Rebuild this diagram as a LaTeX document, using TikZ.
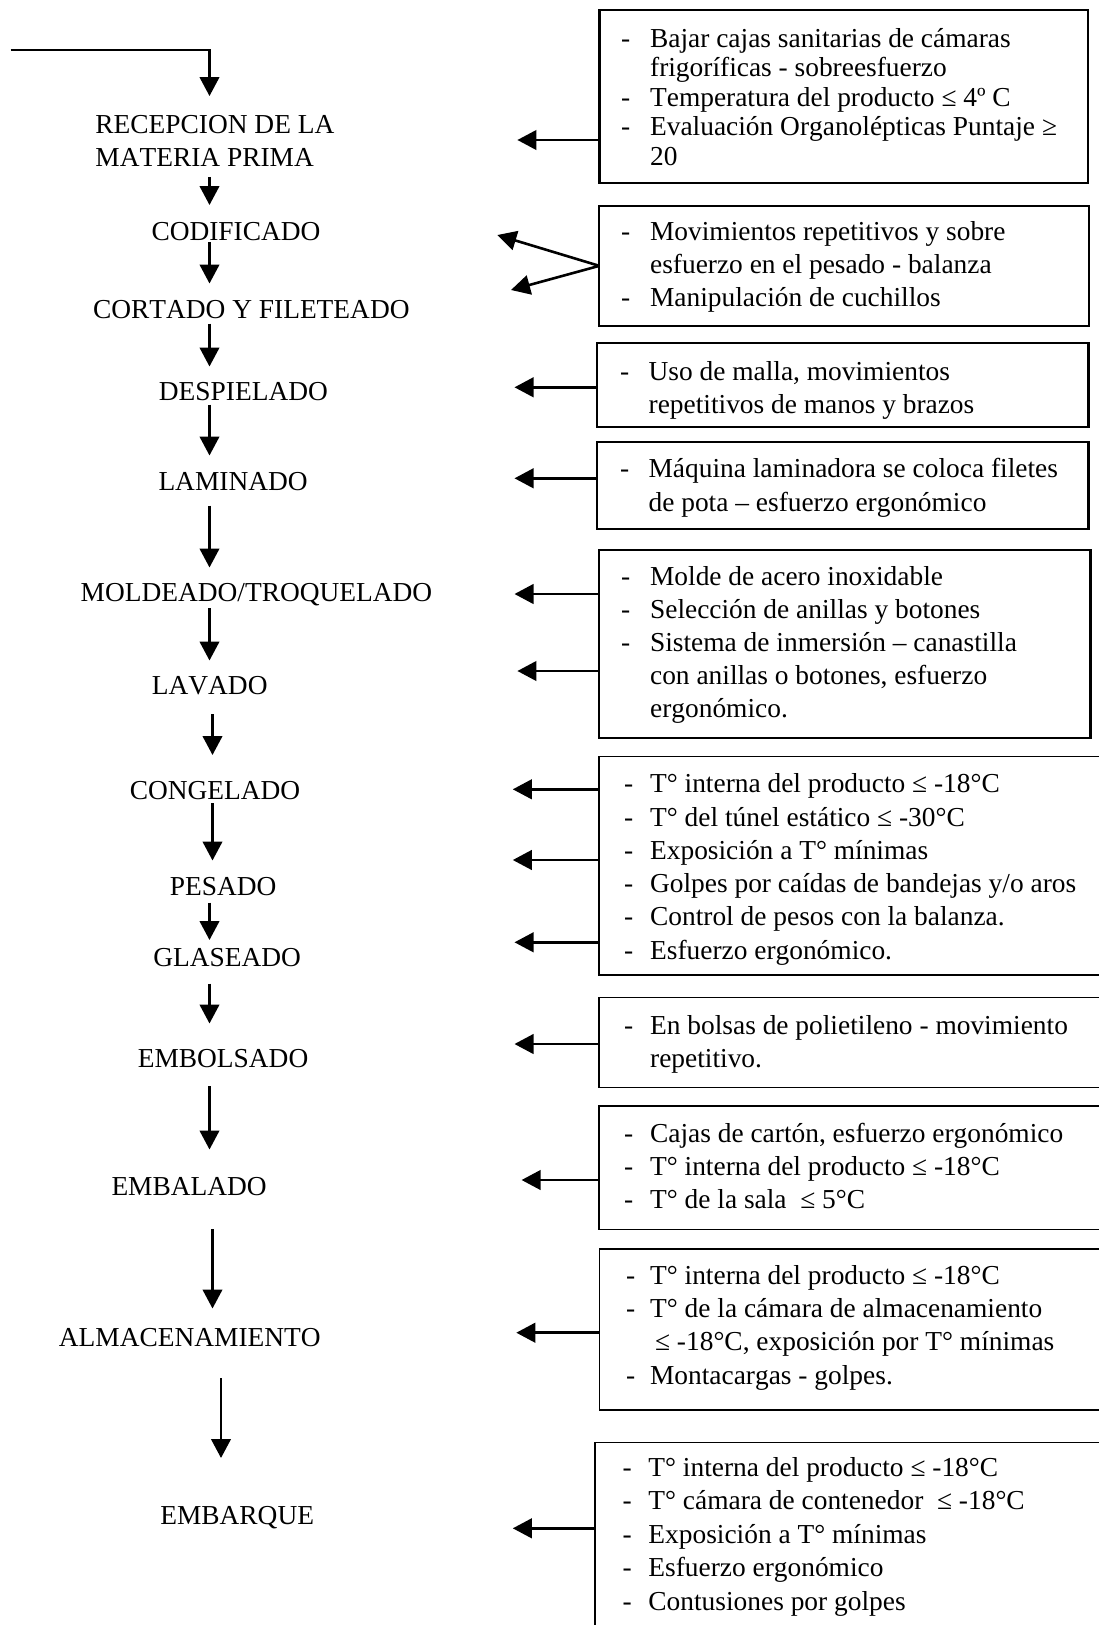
\documentclass[tikz,border=0pt]{standalone}
\usepackage{fontspec}
\setmainfont{Liberation Serif}[Kerning=Off]
\usetikzlibrary{arrows.meta}
\newcommand\mytab[2]{\begin{tabular}{@{}l@{\hspace{#1}}l@{}}#2\end{tabular}}
\tikzset{
  arr/.style={line width=2.6pt, -{Triangle[length=19pt,width=19.5pt]}},
  lab/.style={inner sep=0pt, outer sep=0pt, anchor=base west, text height=18pt, text depth=0pt, font=\fontsize{27.4}{32.5}\selectfont},
  boxA/.style={draw, line width=2.2pt, anchor=north west, inner sep=0pt, outer sep=0pt},
  boxB/.style={draw, line width=1.4pt, anchor=north west, inner sep=0pt, outer sep=0pt},
  txt/.style={inner sep=0pt, outer sep=0pt, anchor=north west},
}
\begin{document}
\begin{tikzpicture}[x=1pt,y=-1pt]
\useasboundingbox (0,0) rectangle (1099,1625);
\fill[white] (0,0) rectangle (1099,1625);
\clip (0,0) rectangle (1099,1625);

% spine coordinates
\coordinate (s1) at (209.5,0);
\coordinate (s2) at (212.5,0);
\coordinate (s3) at (221,0);
\coordinate (start) at (10.5,50);

% process labels
\node[txt, font=\fontsize{27.4}{32.5}\selectfont] (recep) at (95.4,{133.5-0.7*32.5}) {\begin{tabular}{@{}l@{}}RECEPCION DE LA\\MATERIA PRIMA\end{tabular}};
\node[lab] (codif) at (151.5,240) {CODIFICADO};
\node[lab] (cort) at (93,318.5) {CORTADO Y FILETEADO};
\node[lab] (desp) at (158.9,400.5) {DESPIELADO};
\node[lab] (lamin) at (158.5,490.5) {LAMINADO};
\node[lab] (mold) at (80.7,601) {MOLDEADO/TROQUELADO};
\node[lab] (lava) at (151.9,694) {LAVADO};
\node[lab] (cong) at (129.8,799) {CONGELADO};
\node[lab] (pesa) at (169.8,895.5) {PESADO};
\node[lab] (glas) at (153.3,966) {GLASEADO};
\node[lab] (embo) at (137.8,1067.5) {EMBOLSADO};
\node[lab] (emba) at (111.5,1195.5) {EMBALADO};
\node[lab] (alma) at (58.9,1346) {ALMACENAMIENTO};
\node[lab] (embq) at (160.3,1524) {EMBARQUE};

% flow arrows
\draw[arr, shorten >=14.7pt] (start) -| (recep.north -| s1);
\draw[arr, shorten <=1pt, shorten >=17pt] (recep.south -| s1) -- (codif.north -| s1);
\draw[arr, shorten <=2.4pt, shorten >=17pt] (codif.south -| s1) -- (cort.north -| s1);
\draw[arr, shorten <=5pt, shorten >=16pt] (cort.south -| s1) -- (desp.north -| s1);
\draw[arr, shorten <=4pt, shorten >=17pt] (desp.south -| s1) -- (lamin.north -| s1);
\draw[arr, shorten <=15pt, shorten >=15.5pt] (lamin.south -| s1) -- (mold.north -| s1);
\draw[arr, shorten <=7pt, shorten >=15.5pt] (mold.south -| s1) -- (lava.north -| s1);
\draw[arr, shorten <=20pt, shorten >=26pt] (lava.south -| s2) -- (cong.north -| s2);
\draw[arr, shorten <=4pt, shorten >=17pt] (cong.south -| s2) -- (pesa.north -| s2);
\draw[arr, shorten <=7pt, shorten >=8pt] (pesa.south -| s1) -- (glas.north -| s1);
\draw[arr, shorten <=17.5pt, shorten >=26pt] (glas.south -| s1) -- (embo.north -| s1);
\draw[arr, shorten <=18.5pt, shorten >=28pt] (embo.south -| s1) -- (emba.north -| s1);
\draw[arr, shorten <=33.5pt, shorten >=19.5pt] (emba.south -| s2) -- (alma.north -| s2);
\draw[arr, shorten <=32pt, shorten >=48pt] (alma.south -| s3) -- (embq.north -| s3);

% boxes
\node[boxA, minimum width=488.2pt, minimum height=172.7pt] (b1) at (599.5,10) {};
\node[boxA, minimum width=489.7pt, minimum height=120.3pt] (b2) at (599.3,205.7) {};
\node[boxA, minimum width=491.6pt, minimum height=84pt] (b3) at (596.8,342.7) {};
\node[boxA, minimum width=491.6pt, minimum height=86.7pt] (b4) at (596.8,442.3) {};
\node[boxA, minimum width=491.7pt, minimum height=188.3pt] (b5) at (598.8,550) {};
\node[boxB, minimum width=520pt, minimum height=218.3pt] (b6) at (598.8,756.7) {};
\node[boxB, minimum width=520pt, minimum height=90.4pt] (b7) at (598.8,997.3) {};
\node[boxB, minimum width=520pt, minimum height=123.3pt] (b8) at (598.8,1106) {};
\node[boxB, minimum width=520pt, minimum height=161pt] (b9) at (599.5,1249) {};
\node[boxB, minimum width=530pt, minimum height=220pt] (b10) at (595,1442.7) {};

% box texts
\node[txt, font=\fontsize{27.4}{29.5}\selectfont] (t1) at (621,{47-0.7*29.5}) {\mytab{20pt}{%
-& Bajar cajas sanitarias de cámaras\\
 & frigoríficas - sobreesfuerzo\\
-& Temperatura del producto ≤ 4º C\\
-& Evaluación Organolépticas Puntaje ≥\\
 & 20}};
\node[txt, font=\fontsize{27.4}{33.3}\selectfont] (t2) at (621,{240-0.7*33.3}) {\mytab{20pt}{%
-& Movimientos repetitivos y sobre\\
 & esfuerzo en el pesado - balanza\\
-& Manipulación de cuchillos}};
\node[txt, font=\fontsize{27.4}{33}\selectfont] (t3) at (620,{380-0.7*33}) {\mytab{19.5pt}{%
-& Uso de malla, movimientos\\
 & repetitivos de manos y brazos}};
\node[txt, font=\fontsize{27.4}{34}\selectfont] (t4) at (620,{477.7-0.7*34}) {\mytab{19.5pt}{%
-& Máquina laminadora se coloca filetes\\
 & de pota – esfuerzo ergonómico}};
\node[txt, font=\fontsize{27.4}{33}\selectfont] (t5) at (621,{585-0.7*33}) {\mytab{20pt}{%
-& Molde de acero inoxidable\\
-& Selección de anillas y botones\\
-& Sistema de inmersión – canastilla\\
 & con anillas o botones, esfuerzo\\
 & ergonómico.}};
\node[txt, font=\fontsize{27.4}{33.3}\selectfont] (t6) at (624,{792.7-0.7*33.3}) {\mytab{17pt}{%
-& T° interna del producto ≤ -18°C\\
-& T° del túnel estático ≤ -30°C\\
-& Exposición a T° mínimas\\
-& Golpes por caídas de bandejas y/o aros\\
-& Control de pesos con la balanza.\\
-& Esfuerzo ergonómico.}};
\node[txt, font=\fontsize{27.4}{32.5}\selectfont] (t7) at (624,{1034.5-0.7*32.5}) {\mytab{17pt}{%
-& En bolsas de polietileno - movimiento\\
 & repetitivo.}};
\node[txt, font=\fontsize{27.4}{33.3}\selectfont] (t8) at (624,{1142-0.7*33.3}) {\mytab{17pt}{%
-& Cajas de cartón, esfuerzo ergonómico\\
-& T° interna del producto ≤ -18°C\\
-& T° de la sala \ ≤ 5°C}};
\node[txt, font=\fontsize{27.4}{33.2}\selectfont] (t9) at (626,{1284.5-0.7*33.2}) {\mytab{15pt}{%
-& T° interna del producto ≤ -18°C\\
-& T° de la cámara de almacenamiento\\
 & \hspace{5pt}≤ -18°C, exposición por T° mínimas\\
-& Montacargas - golpes.}};
\node[txt, font=\fontsize{27.4}{33.5}\selectfont] (t10) at (622.5,{1476-0.7*33.5}) {\mytab{16.8pt}{%
-& T° interna del producto ≤ -18°C\\
-& T° cámara de contenedor \ ≤ -18°C\\
-& Exposición a T° mínimas\\
-& Esfuerzo ergonómico\\
-& Contusiones por golpes}};

% hazard arrows (tips are free ends)
\coordinate (r1) at (517.4,140);
\coordinate (r2a) at (497.3,235);
\coordinate (r2b) at (511,290);
\coordinate (r3) at (514.5,387.3);
\coordinate (r4) at (514.5,478.3);
\coordinate (r5) at (514.5,594);
\coordinate (r6) at (517.4,671);
\coordinate (r7) at (512.8,789.3);
\coordinate (r8) at (512.8,860);
\coordinate (r9) at (514.5,942.3);
\coordinate (r10) at (514.5,1044);
\coordinate (r11) at (521.6,1180);
\coordinate (r12) at (516.3,1332.7);
\coordinate (r13) at (512.8,1528.3);
\draw[arr] (b1.west |- r1) -- (r1);
\draw[arr] (b2.west) -- (r2a);
\draw[arr] (b2.west) -- (r2b);
\draw[arr] (b3.west |- r3) -- (r3);
\draw[arr] (b4.west |- r4) -- (r4);
\draw[arr] (b5.west |- r5) -- (r5);
\draw[arr] (b5.west |- r6) -- (r6);
\draw[arr] (b6.west |- r7) -- (r7);
\draw[arr] (b6.west |- r8) -- (r8);
\draw[arr] (b6.west |- r9) -- (r9);
\draw[arr] (b7.west |- r10) -- (r10);
\draw[arr] (b8.west |- r11) -- (r11);
\draw[arr] (b9.west |- r12) -- (r12);
\draw[arr] (b10.west |- r13) -- (r13);
\end{tikzpicture}
\end{document}
